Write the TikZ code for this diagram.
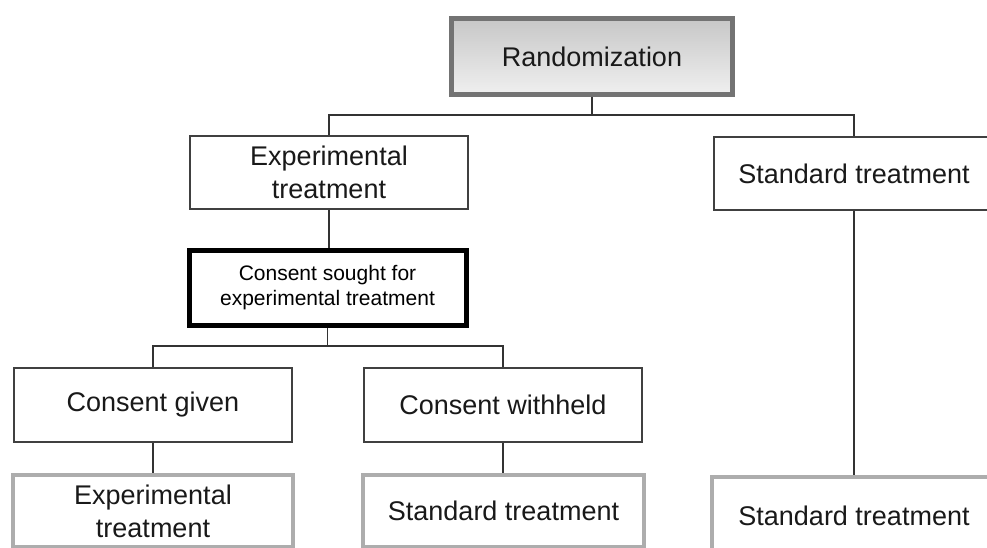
\documentclass[tikz,border=0pt]{standalone}
\usepackage{fontspec}
\setmainfont{Liberation Sans}
\begin{document}
\begin{tikzpicture}[x=1pt,y=-1pt,
  lbl/.style={font=\fontsize{27}{33}\selectfont, align=center, inner sep=0pt, text=black!90},
  plainbox/.style={lbl, draw=black!75, line width=1.8pt},
  randbox/.style={lbl, draw=black!55, line width=5pt, top color=black!22, bottom color=black!6},
  sought/.style={draw=black, line width=5pt, align=center, inner sep=0pt,
    font=\fontsize{21}{25}\selectfont},
  outbox/.style={lbl, draw=black!32, line width=4.5pt},
  conn/.style={draw=black!80, line width=1.4pt}]
\useasboundingbox (0,0) rectangle (987,548);
\clip (0,0) rectangle (987,548);
\fill[white] (0,0) rectangle (987,548);

\node[randbox, minimum width=281pt, minimum height=76pt] (rand) at (592,56.5) {Randomization};
\node[plainbox, minimum width=278pt, minimum height=73pt] (expt) at (329,172.5) {Experimental\\treatment};
\node[plainbox, minimum width=280pt, minimum height=73pt] (stdt) at (854,173.5) {Standard treatment};
\node[sought, minimum width=277pt, minimum height=75pt] (cs) at (327.5,288) {Consent sought for\\experimental treatment};
\node[plainbox, minimum width=278pt, minimum height=74pt] (cg) at (153,405) {Consent given};
\node[plainbox, minimum width=278pt, minimum height=74pt] (cw) at (503,405) {Consent withheld};
\node[outbox, minimum width=280pt, minimum height=72pt] (bl) at (153,511) {Experimental\\treatment};
\node[outbox, minimum width=281pt, minimum height=72pt] (bm) at (503.5,511) {Standard treatment};
\node[outbox, minimum width=284pt, minimum height=78pt] (br) at (854,516) {Standard treatment};

\draw[conn] (rand.south) -- ++(0,18);
\draw[conn] (expt.north) -- ++(0,-20) -| (stdt.north);
\draw[conn] (expt.south) -- (expt.south |- cs.north);
\draw[conn] (cs.south) -- ++(0,18);
\draw[conn] (cg.north) -- ++(0,-21) -| (cw.north);
\draw[conn] (cg.south) -- (cg.south |- bl.north);
\draw[conn] (cw.south) -- (cw.south |- bm.north);
\draw[conn] (stdt.south) -- (stdt.south |- br.north);
\end{tikzpicture}
\end{document}
